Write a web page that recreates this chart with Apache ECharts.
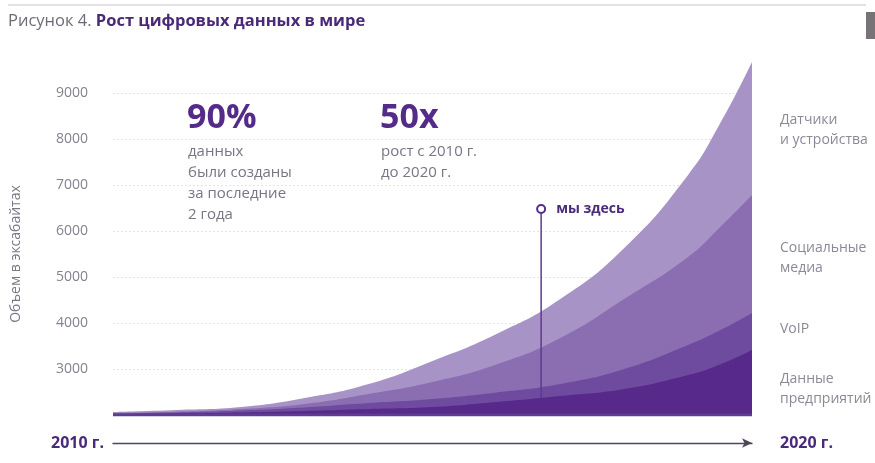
<!DOCTYPE html>
<html>
<head>
<meta charset="utf-8">
<script src="https://cdn.jsdelivr.net/npm/echarts@6/dist/echarts.min.js"></script>
<style>
  html, body { margin: 0; padding: 0; background: #fff; }
  #chart { width: 875px; height: 463px; }
</style>
</head>
<body>
<div id="chart"></div>
<script>
// Time points on the horizontal axis (years; one mid-year point near the end)
const years = [2010, 2011, 2012, 2013, 2014, 2015, 2016, 2017, 2018, 2019, 2019.5, 2020];

// Axis floor (exabytes) the layers sit on
const baseline = [2000, 2000, 2000, 2000, 2000, 2000, 2000, 2000, 2000, 2000, 2000, 2000];

// Layer thickness per time point, exabytes (stacked bottom to top)
const enterprise = [22, 33, 54, 87, 130, 174, 283, 413, 565, 870, 1100, 1413];
const voip       = [11, 22, 43, 76, 130, 174, 207, 261, 435, 652, 740, 804];
const social     = [11, 15, 33, 76, 196, 370, 609, 1000, 1522, 1913, 2240, 2565];
const sensors    = [22, 39, 43, 130, 217, 457, 663, 848, 1109, 1785, 2256, 2891];

// Layer names shown at the right edge
const layerNames = ['Данные\nпредприятий', 'VoIP', 'Социальные\nмедиа', 'Датчики\nи устройства'];

// "мы здесь" marker: year and the value range of its stem
const nowYear = 2016.7;
const nowStem = [2370, 6480];

// Y axis ticks
const yMin = 2000, yMax = 9000, yStep = 1000;

const FONT = '"Open Sans", "Noto Sans", sans-serif';
const PURPLE = '#552b8a';

const layerColors = ['#57298b', '#6f4ba0', '#8b6db2', '#a893c6'];
const layerData = [enterprise, voip, social, sensors];
const labelOffsets = [7, -2, 4, 1];

// Running totals: the top edge of each band
const tops = [];
let acc = baseline.slice();
layerData.forEach(vals => {
  acc = acc.map((v, i) => v + vals[i]);
  tops.push(acc.slice());
});

function pairs(vals) { return years.map((y, i) => [y, vals[i]]); }

const chart = echarts.init(document.getElementById('chart'), null, { renderer: 'canvas' });

const series = [];

// Bands are painted from the outermost edge inward; each opaque fill
// covers the one before it, leaving the visible band between two edges.
for (let i = layerData.length - 1; i >= 0; i--) {
  series.push({
    name: layerNames[i],
    type: 'line',
    data: pairs(tops[i]),
    symbol: 'none',
    smooth: 0.5,
    clip: false,
    lineStyle: { width: 0 },
    areaStyle: { color: layerColors[i], opacity: 1, origin: 'start' },
    z: 2,
    silent: true
  });
}

// Floor line under the bands
series.push({
  type: 'line',
  data: pairs(baseline),
  symbol: 'none',
  lineStyle: { color: '#5e3c92', width: 3 },
  z: 4,
  silent: true
});

// Band names beside the 2020 edge, at the middle of each band
const last = years.length - 1;
layerData.forEach((vals, i) => {
  const mid = tops[i][last] - vals[last] / 2;
  series.push({
    type: 'scatter',
    data: [[years[last], mid]],
    symbolSize: 0,
    silent: true,
    clip: false,
    label: {
      show: true,
      position: 'right',
      distance: 28,
      offset: [0, labelOffsets[i]],
      formatter: layerNames[i],
      color: '#6f6a7c',
      fontFamily: FONT,
      fontSize: 14,
      lineHeight: 20,
      align: 'left'
    }
  });
});

// "мы здесь" stem with hollow circle on top
series.push({
  type: 'line',
  data: [
    { value: [nowYear, nowStem[0]], symbol: 'none' },
    {
      value: [nowYear, nowStem[1]],
      symbol: 'circle',
      symbolSize: 8,
      itemStyle: { color: '#fff', borderColor: PURPLE, borderWidth: 2 },
      label: {
        show: true,
        position: 'right',
        distance: 10,
        formatter: 'мы здесь',
        color: '#4a2a7a',
        fontFamily: FONT,
        fontWeight: 'bold',
        fontSize: 14
      }
    }
  ],
  showSymbol: true,
  lineStyle: { color: '#5c3a90', width: 1.5 },
  clip: false,
  silent: true,
  z: 5
});

chart.setOption({
  animation: false,
  backgroundColor: '#fff',
  title: {
    left: 8,
    top: 13,
    padding: 0,
    text: '{a|Рисунок 4. }{b|Рост цифровых данных в мире}',
    textStyle: {
      rich: {
        a: { fontFamily: FONT, fontSize: 16.5, fontWeight: 'normal', color: '#6e6a78' },
        b: { fontFamily: FONT, fontSize: 16.5, fontWeight: 'bold', color: '#4a2a78' }
      }
    }
  },
  grid: { left: 113, right: 123, top: 93, bottom: 48 },
  xAxis: {
    type: 'value',
    min: 2010,
    max: 2020,
    interval: 10,
    offset: 28,
    axisLine: {
      show: true,
      symbol: ['none', 'arrow'],
      symbolSize: [7, 10],
      lineStyle: { color: '#4d4558', width: 1.3 }
    },
    axisTick: { show: false },
    splitLine: { show: false },
    axisLabel: {
      formatter: v => v + ' г.',
      alignMinLabel: 'right',
      alignMaxLabel: 'left',
      verticalAlign: 'middle',
      margin: 0,
      padding: [0, 9, 0, 28],
      color: '#4a2a78',
      fontFamily: FONT,
      fontWeight: 'bold',
      fontSize: 16
    }
  },
  yAxis: {
    type: 'value',
    min: yMin,
    max: yMax,
    interval: yStep,
    name: 'Объем в эксабайтах',
    nameLocation: 'middle',
    nameRotate: 90,
    nameGap: 90,
    nameTextStyle: { color: '#7c7688', fontFamily: FONT, fontSize: 14 },
    axisLine: { show: false },
    axisTick: { show: false },
    axisLabel: {
      formatter: v => (v === yMin ? '' : String(v)),
      color: '#86818f',
      fontFamily: FONT,
      fontSize: 14,
      margin: 25,
      padding: [0, 0, 10, 0]
    },
    splitLine: {
      show: true,
      lineStyle: { color: '#e6e2ea', type: [2, 2], width: 1 }
    }
  },
  graphic: [
    { type: 'line', shape: { x1: 8, y1: 5, x2: 866, y2: 5 }, style: { stroke: '#ddd6e2', lineWidth: 1.5 } },
    { type: 'rect', shape: { x: 866, y: 12, width: 9, height: 27 }, style: { fill: '#777377' } },
    { type: 'text', left: 187, top: 101, style: { text: '90%', font: 'bold 34px ' + FONT, fill: PURPLE } },
    { type: 'text', left: 188, top: 141, style: { text: 'данных\nбыли созданы\nза последние\n2 года', font: '15px ' + FONT, fill: '#7a7485', lineHeight: 21 } },
    { type: 'text', left: 380, top: 101, style: { text: '50x', font: 'bold 34px ' + FONT, fill: PURPLE } },
    { type: 'text', left: 381, top: 141, style: { text: 'рост с 2010 г.\nдо 2020 г.', font: '15px ' + FONT, fill: '#7a7485', lineHeight: 21 } }
  ],
  series: series
});
</script>
</body>
</html>
